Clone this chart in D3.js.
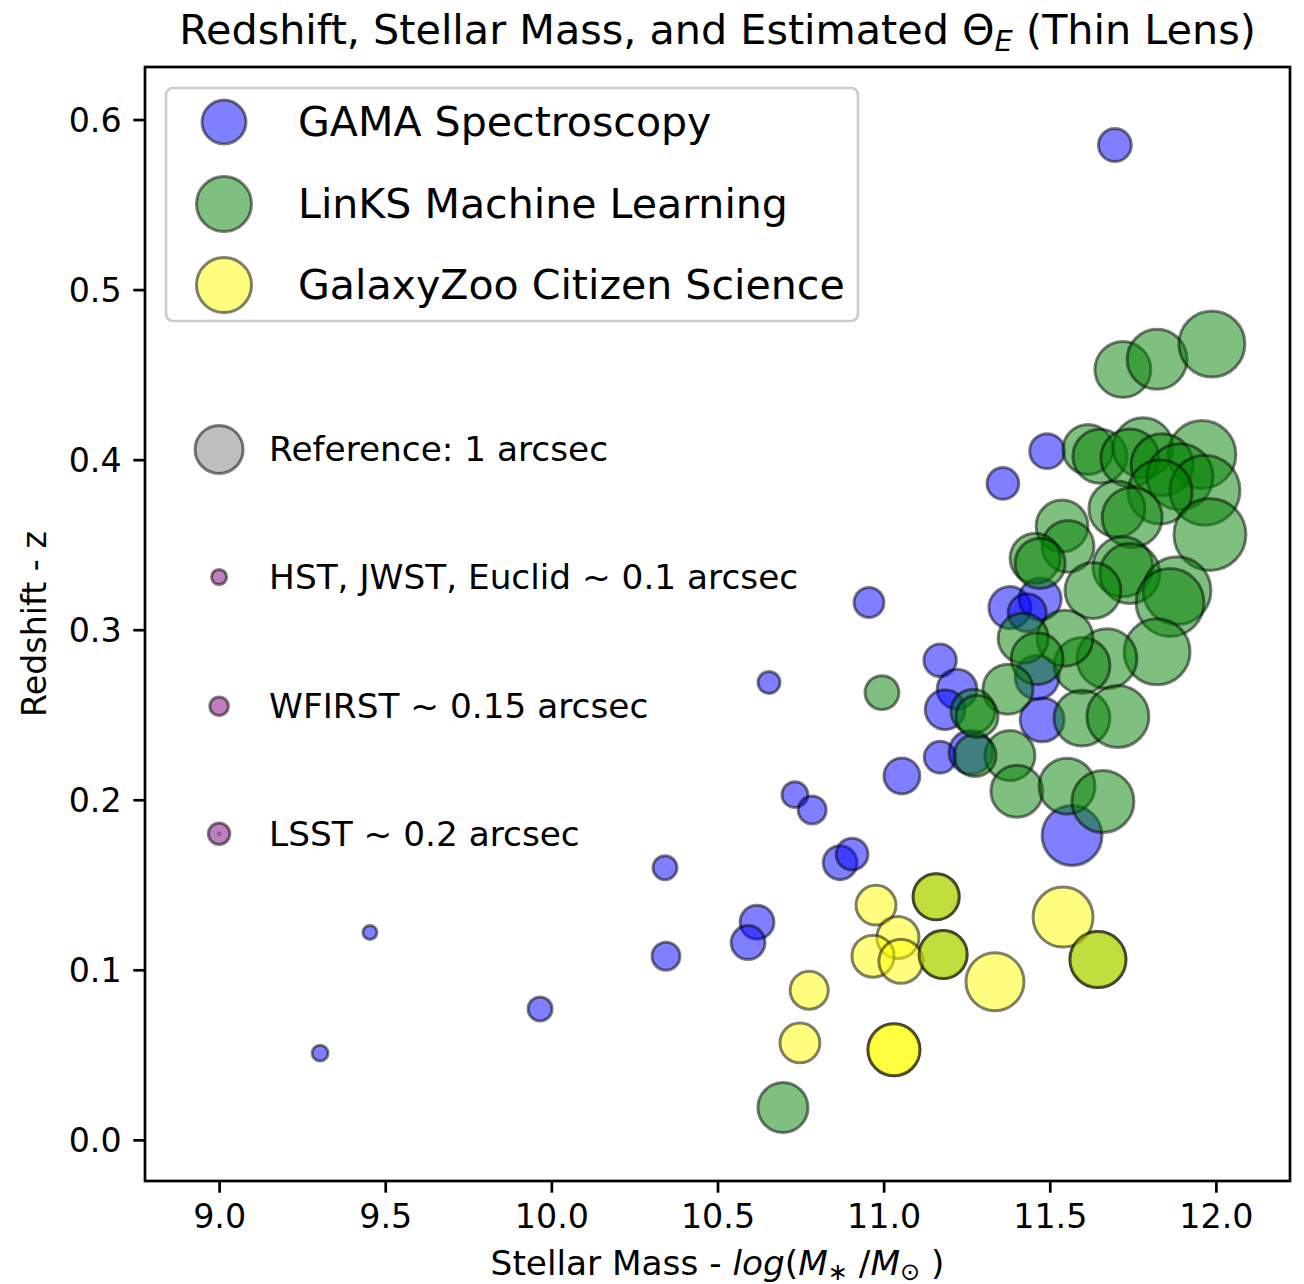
<!DOCTYPE html>
<html>
<head>
<meta charset="utf-8">
<script src="https://cdn.jsdelivr.net/npm/d3@7"></script>
<style>
  body { margin: 0; background: #fff; }
  svg { font-family: "DejaVu Sans", sans-serif; }
</style>
</head>
<body>
<svg id="chart" width="1304" height="1284"></svg>
<script>
// GAMA spectroscopy lenses: stellar mass, redshift, Einstein radius (arcsec)
var gamaMass = [11.696, 11.492, 11.359, 10.956, 10.655, 11.170, 10.733, 10.785, 11.055, 11.170,
  10.869, 10.905, 10.342, 10.619, 10.592, 10.345, 9.966, 9.454, 9.304, 11.567,
  11.477, 11.380, 11.471, 11.432, 11.462, 11.221, 11.185, 11.263];
var gamaZ = [0.585, 0.405, 0.386, 0.316, 0.269, 0.282, 0.203, 0.194, 0.214, 0.225,
  0.163, 0.168, 0.160, 0.128, 0.116, 0.108, 0.077, 0.122, 0.051, 0.179,
  0.247, 0.313, 0.318, 0.310, 0.272, 0.265, 0.253, 0.228];
var gamaTheta = [0.47, 0.53, 0.44, 0.39, 0.21, 0.46, 0.29, 0.34, 0.56, 0.44,
  0.50, 0.44, 0.25, 0.50, 0.50, 0.34, 0.25, 0.085, 0.11, 1.56,
  0.84, 0.77, 0.77, 0.63, 0.84, 0.69, 0.69, 0.84];

// LinKS machine learning
var linksMass = [11.720, 11.823, 11.988, 11.615, 11.651, 11.781, 11.741, 11.958, 11.838, 11.892,
  11.967, 11.832, 11.702, 11.748, 11.982, 11.537, 11.555, 11.456, 11.471, 11.720,
  11.741, 11.630, 11.883, 11.862, 11.823, 11.672, 11.597, 11.546, 11.420, 11.462,
  11.374, 11.269, 11.597, 11.705, 11.380, 11.275, 11.401, 11.552, 11.660, 11.281,
  10.995, 10.697, 11.158, 11.179, 11.645];
var linksZ = [0.453, 0.459, 0.468, 0.406, 0.402, 0.407, 0.401, 0.403, 0.397, 0.390,
  0.382, 0.381, 0.371, 0.366, 0.356, 0.361, 0.349, 0.342, 0.339, 0.337,
  0.333, 0.323, 0.323, 0.316, 0.287, 0.283, 0.279, 0.295, 0.295, 0.283,
  0.265, 0.252, 0.248, 0.249, 0.226, 0.226, 0.205, 0.208, 0.199, 0.249,
  0.263, 0.019, 0.143, 0.109, 0.106];
var linksTheta = [1.36, 1.56, 1.89, 1.09, 1.27, 1.56, 1.46, 2.00, 1.67, 1.89,
  2.13, 1.78, 1.36, 1.56, 2.25, 1.17, 1.17, 1.09, 1.09, 1.56,
  1.56, 1.36, 2.00, 2.00, 1.89, 1.56, 1.36, 1.36, 1.09, 1.17,
  1.09, 0.84, 1.36, 1.67, 1.09, 0.77, 1.17, 1.36, 1.67, 0.77,
  0.50, 1.09, 0.92, 1.00, 1.36];

// GalaxyZoo citizen science
var zooMass = [11.540, 11.335, 10.977, 11.043, 10.968, 11.052, 10.776, 10.748, 11.031, 11.031,
  11.158, 11.179, 11.645];
var zooZ = [0.131, 0.093, 0.138, 0.119, 0.108, 0.105, 0.088, 0.057, 0.053, 0.053,
  0.143, 0.109, 0.106];
var zooTheta = [1.56, 1.46, 0.69, 0.77, 0.77, 0.84, 0.63, 0.69, 1.17, 1.17,
  0.92, 1.00, 1.36];

var seriesNames = ['GAMA Spectroscopy', 'LinKS Machine Learning', 'GalaxyZoo Citizen Science'];

// resolution reference markers
var refLabels = ['Reference: 1 arcsec', 'HST, JWST, Euclid ~ 0.1 arcsec', 'WFIRST ~ 0.15 arcsec', 'LSST ~ 0.2 arcsec'];
var refTheta = [1, 0.1, 0.15, 0.2];
var refZ = [0.406, 0.331, 0.255, 0.180];

var xTicks = [9.0, 9.5, 10.0, 10.5, 11.0, 11.5, 12.0];
var yTicks = [0.0, 0.1, 0.2, 0.3, 0.4, 0.5, 0.6];

var svg = d3.select('#chart');
var plotL = 145, plotR = 1290, plotT = 67, plotB = 1181;

var x = d3.scaleLinear().domain([8.777, 12.223]).range([plotL, plotR]);
var y = d3.scaleLinear().domain([-0.0242, 0.6309]).range([plotB, plotT]);
var r = d3.scaleSqrt().domain([0, 1]).range([0, 24]);

function zip(m, z, t) {
  return m.map(function(d, i) { return {mass: d, z: z[i], theta: t[i]}; });
}

var series = [
  {data: zip(gamaMass, gamaZ, gamaTheta), color: 'blue'},
  {data: zip(linksMass, linksZ, linksTheta), color: 'green'},
  {data: zip(zooMass, zooZ, zooTheta), color: 'yellow'}
];

// points
var plot = svg.append('g');
series.forEach(function(s) {
  plot.selectAll(null).data(s.data).enter().append('circle')
    .attr('cx', function(d) { return x(d.mass); })
    .attr('cy', function(d) { return y(d.z); })
    .attr('r', function(d) { return r(d.theta); })
    .attr('fill', s.color)
    .attr('fill-opacity', 0.5)
    .attr('stroke', 'black')
    .attr('stroke-opacity', 0.5)
    .attr('stroke-width', 3);
});

// reference markers
var refs = refLabels.map(function(l, i) { return {label: l, theta: refTheta[i], z: refZ[i]}; });
var refG = svg.append('g');
refG.selectAll('circle').data(refs).enter().append('circle')
  .attr('cx', x(9.0))
  .attr('cy', function(d) { return y(d.z); })
  .attr('r', function(d) { return r(d.theta); })
  .attr('fill', function(d, i) { return i === 0 ? 'grey' : 'purple'; })
  .attr('fill-opacity', 0.5)
  .attr('stroke', 'black')
  .attr('stroke-opacity', 0.5)
  .attr('stroke-width', 3);
// tiny inner ring on the LSST marker
refG.append('circle')
  .attr('cx', x(9.0)).attr('cy', y(refZ[3]))
  .attr('r', 1.6).attr('fill', 'none')
  .attr('stroke', 'black').attr('stroke-opacity', 0.6).attr('stroke-width', 0.8);
refG.selectAll('text').data(refs).enter().append('text')
  .attr('x', x(9.0) + 50)
  .attr('y', function(d) { return y(d.z) + 12; })
  .attr('font-size', 34.3)
  .text(function(d) { return d.label; });

// axes
var xAxis = svg.append('g').attr('transform', 'translate(0,' + plotB + ')')
  .call(d3.axisBottom(x).tickValues(xTicks).tickFormat(d3.format('.1f')).tickSize(11.7).tickPadding(11.7));
var yAxis = svg.append('g').attr('transform', 'translate(' + plotL + ',0)')
  .call(d3.axisLeft(y).tickValues(yTicks).tickFormat(d3.format('.1f')).tickSize(11.7).tickPadding(11.7));
[xAxis, yAxis].forEach(function(a) {
  a.select('.domain').remove();
  a.selectAll('line').attr('stroke', 'black').attr('stroke-width', 2.7);
  a.selectAll('text').attr('font-size', 33.3).attr('font-family', 'DejaVu Sans').attr('fill', 'black');
});
yAxis.selectAll('text').attr('dy', '0.36em');

svg.append('rect')
  .attr('x', plotL).attr('y', plotT)
  .attr('width', plotR - plotL).attr('height', plotB - plotT)
  .attr('fill', 'none').attr('stroke', 'black').attr('stroke-width', 2.7);

// legend
var legend = svg.append('g');
legend.append('rect')
  .attr('x', 166).attr('y', 88).attr('width', 692).attr('height', 233)
  .attr('rx', 7).attr('fill', 'white').attr('fill-opacity', 0.8)
  .attr('stroke', '#cccccc').attr('stroke-width', 2.7);
var legendR = [22, 27.5, 27.5];
var legendY = [122, 204, 285];
series.forEach(function(s, i) {
  legend.append('circle')
    .attr('cx', 224).attr('cy', legendY[i]).attr('r', legendR[i])
    .attr('fill', s.color).attr('fill-opacity', 0.5)
    .attr('stroke', 'black').attr('stroke-opacity', 0.5).attr('stroke-width', 3);
  legend.append('text')
    .attr('x', 298).attr('y', legendY[i] + 14)
    .attr('font-size', 41.1)
    .text(seriesNames[i]);
});

// title
var title = svg.append('text')
  .attr('x', (plotL + plotR) / 2).attr('y', 44)
  .attr('text-anchor', 'middle').attr('font-size', 41.3);
title.append('tspan').text('Redshift, Stellar Mass, and Estimated \u0398');
title.append('tspan').attr('font-size', 29).attr('font-style', 'italic').attr('dy', 7).text('E');
title.append('tspan').attr('dy', -7).text(' (Thin Lens)');

// x label
var xl = svg.append('text')
  .attr('x', (plotL + plotR) / 2).attr('y', 1275)
  .attr('text-anchor', 'middle').attr('font-size', 34.3);
xl.append('tspan').text('Stellar Mass - ');
xl.append('tspan').attr('font-style', 'italic').text('log');
xl.append('tspan').text('(');
xl.append('tspan').attr('font-style', 'italic').text('M');
xl.append('tspan').attr('font-size', 24).attr('dy', 5).text('\u2217');
xl.append('tspan').attr('dy', -5).text(' /');
xl.append('tspan').attr('font-style', 'italic').text('M');
xl.append('tspan').attr('font-size', 24).attr('dy', 5).text('\u2299');
xl.append('tspan').attr('dy', -5).text(' )');

// y label
svg.append('text')
  .attr('transform', 'translate(46,' + ((plotT + plotB) / 2) + ') rotate(-90)')
  .attr('text-anchor', 'middle').attr('font-size', 33.3)
  .text('Redshift - z');
</script>
</body>
</html>
